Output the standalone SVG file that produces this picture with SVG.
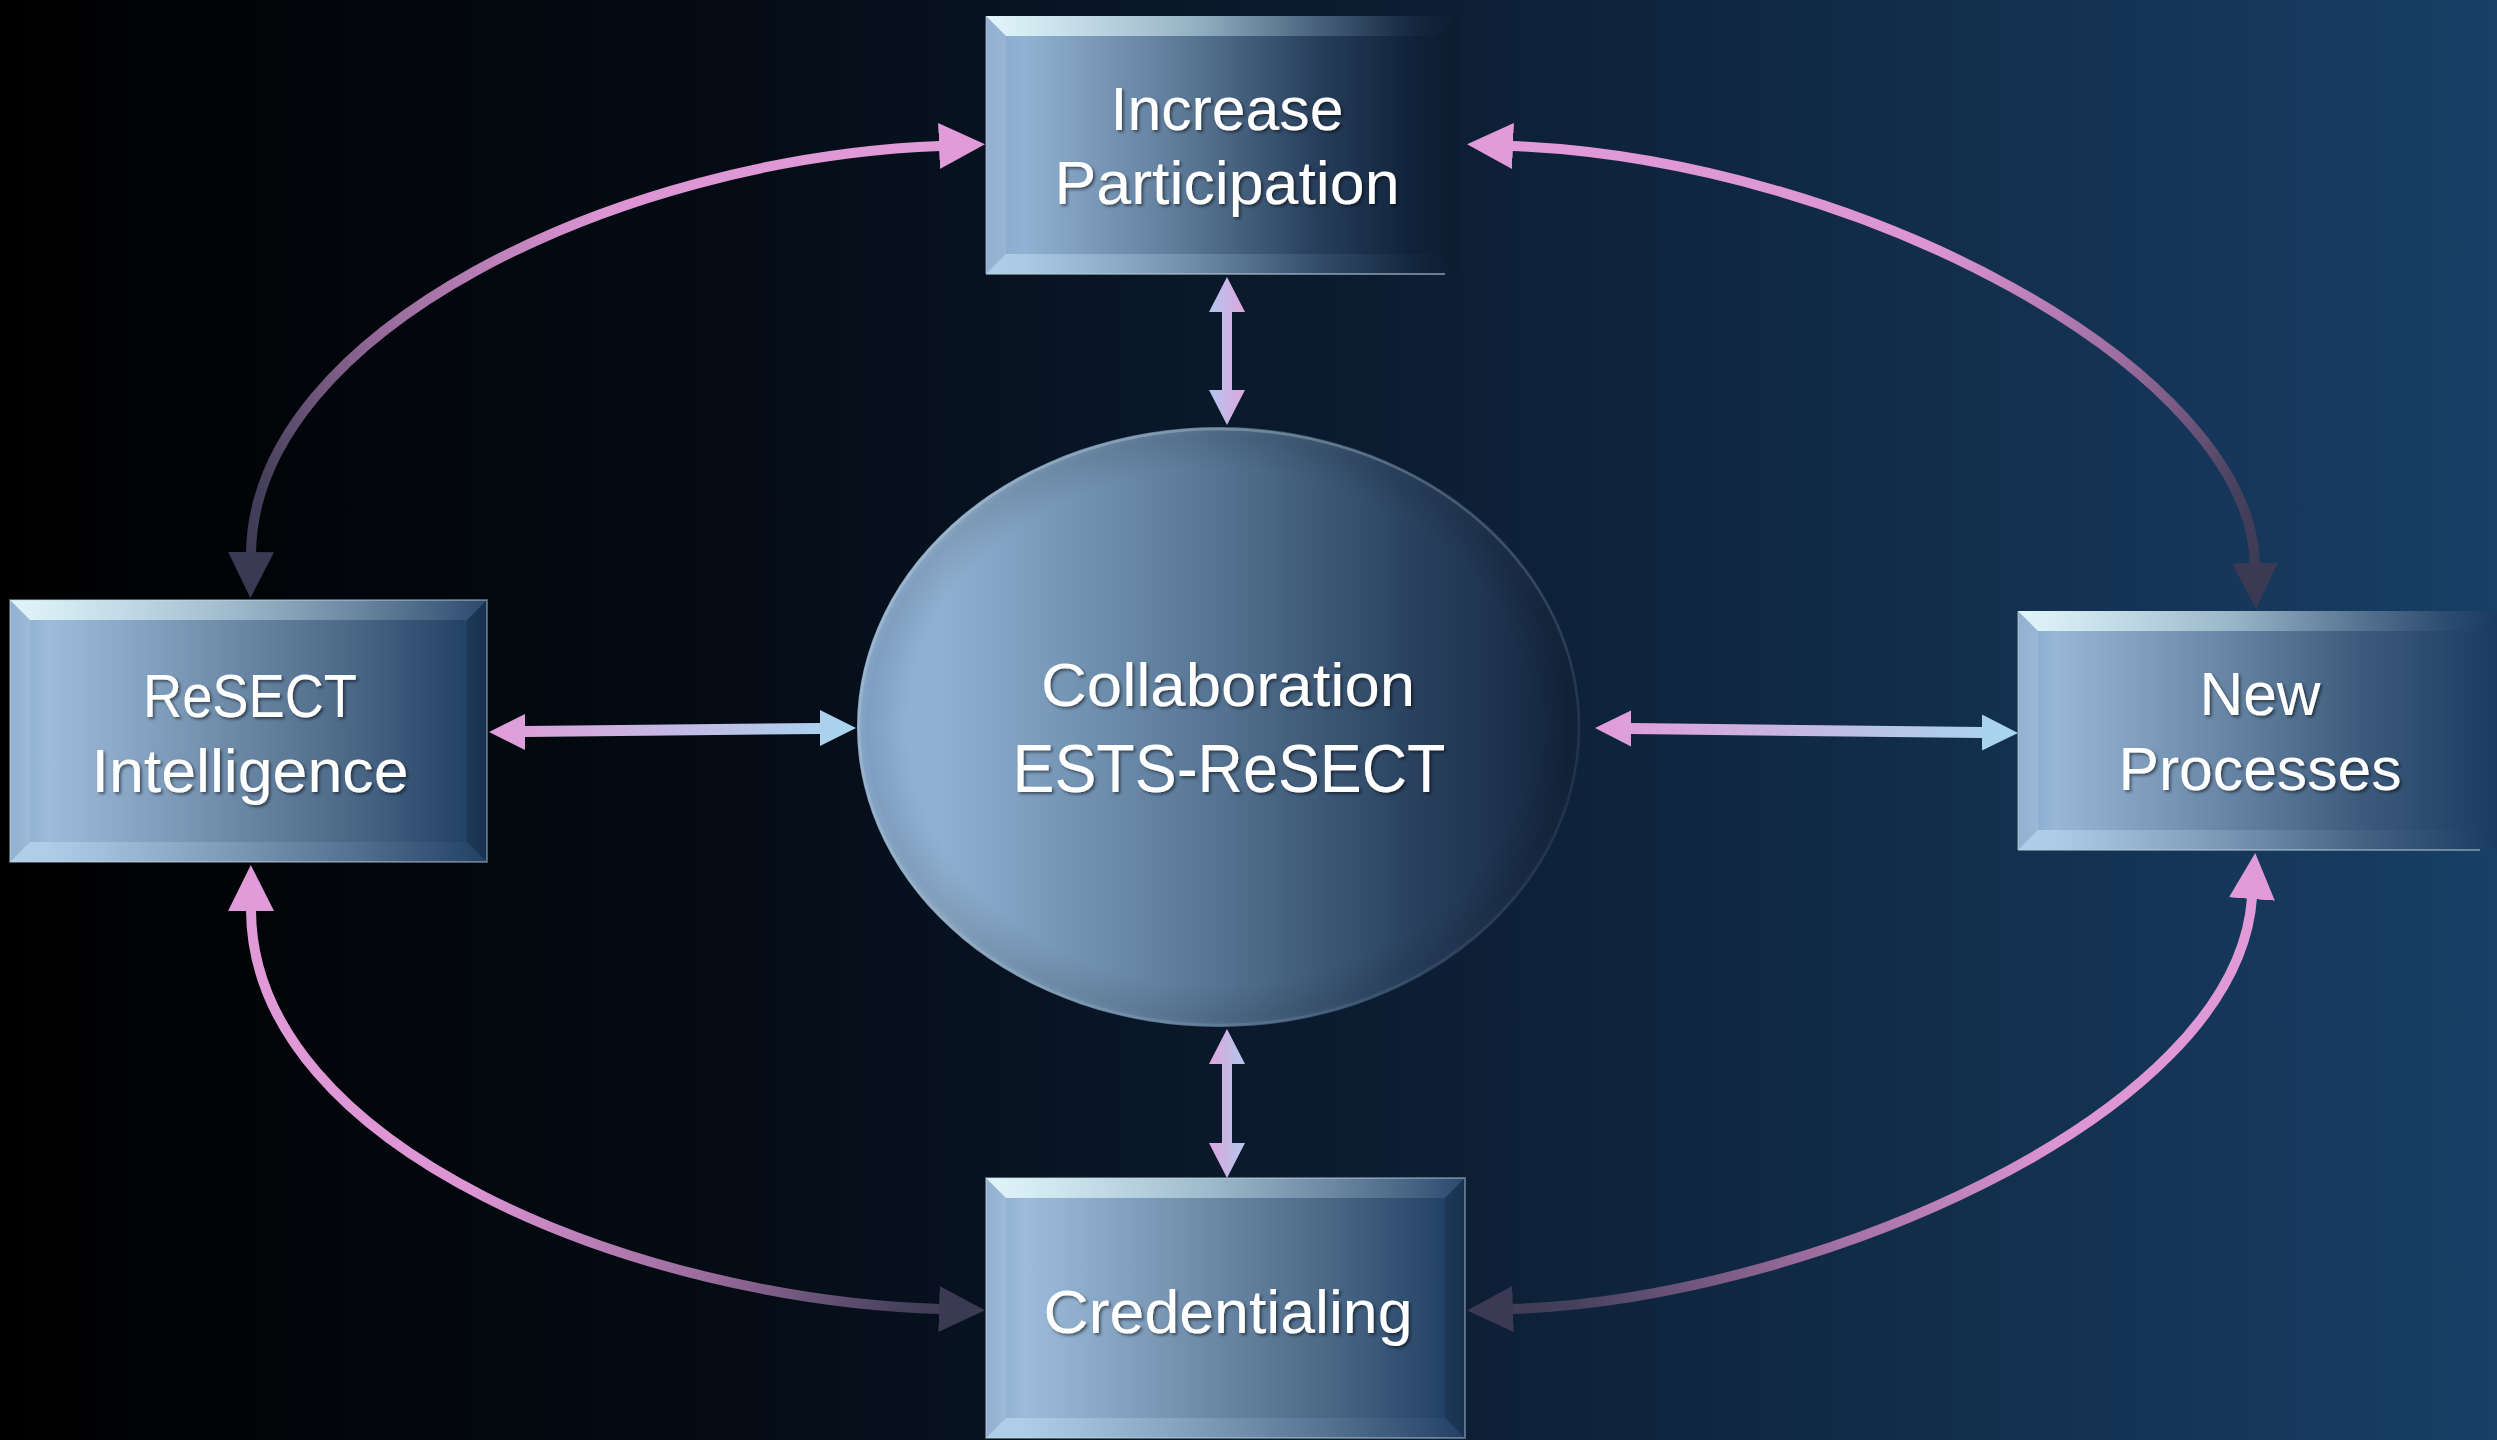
<svg xmlns="http://www.w3.org/2000/svg" width="2497" height="1440" viewBox="0 0 2497 1440">
<defs>
<style>
.lbl { font-family: "Liberation Sans", Arial, sans-serif; font-size: 62px; fill: #ffffff; text-anchor: middle; }
.arc { fill: none; stroke-width: 10; stroke-linecap: butt; marker-start: url(#hPink); marker-end: url(#hDark); }
.bevL { fill: #ffffff; fill-opacity: 0.10; }
.bevR { fill: #000000; fill-opacity: 0.14; }
.edge { fill: none; stroke: #c8dbe6; stroke-opacity: 0.4; stroke-width: 2; }
</style>
<linearGradient id="bg" x1="0" y1="0" x2="1" y2="0">
<stop offset="0" stop-color="#000000"/>
<stop offset="0.3" stop-color="#050c16"/>
<stop offset="0.6" stop-color="#0d2037"/>
<stop offset="1" stop-color="#183f66"/>
</linearGradient>
<linearGradient id="boxFill" x1="0" y1="0" x2="1" y2="0">
<stop offset="0" stop-color="#86a8cb"/>
<stop offset="0.08" stop-color="#9dbcdb"/>
<stop offset="0.4" stop-color="#7593b1"/>
<stop offset="0.72" stop-color="#4a6786"/>
<stop offset="1" stop-color="#1b3b5f"/>
</linearGradient>
<linearGradient id="boxFillTop" x1="0" y1="0" x2="1" y2="0">
<stop offset="0" stop-color="#86a8cb"/>
<stop offset="0.08" stop-color="#92b2d3"/>
<stop offset="0.4" stop-color="#5f7d9b"/>
<stop offset="0.7" stop-color="#273f5c"/>
<stop offset="0.9" stop-color="#10233a"/>
<stop offset="1" stop-color="#0c1c30"/>
</linearGradient>
<linearGradient id="boxFillRight" x1="0" y1="0" x2="1" y2="0">
<stop offset="0" stop-color="#86a8cb"/>
<stop offset="0.08" stop-color="#98b7d7"/>
<stop offset="0.4" stop-color="#6c8aa9"/>
<stop offset="0.72" stop-color="#3c5a7b"/>
<stop offset="1" stop-color="#1a3c62"/>
</linearGradient>
<linearGradient id="bevTop" x1="0" y1="0" x2="1" y2="0">
<stop offset="0" stop-color="#e6fafc" stop-opacity="0.95"/>
<stop offset="0.45" stop-color="#bcd6e0" stop-opacity="0.65"/>
<stop offset="1" stop-color="#7f9ab5" stop-opacity="0.15"/>
</linearGradient>
<linearGradient id="bevTopFade" x1="0" y1="0" x2="1" y2="0">
<stop offset="0" stop-color="#e6fafc" stop-opacity="0.95"/>
<stop offset="0.45" stop-color="#bcd6e0" stop-opacity="0.6"/>
<stop offset="0.9" stop-color="#7f9ab5" stop-opacity="0.05"/>
<stop offset="1" stop-color="#7f9ab5" stop-opacity="0"/>
</linearGradient>
<linearGradient id="bevBot" x1="0" y1="0" x2="1" y2="0">
<stop offset="0" stop-color="#bcdcf4" stop-opacity="0.75"/>
<stop offset="0.5" stop-color="#90b0cc" stop-opacity="0.35"/>
<stop offset="1" stop-color="#3f5f80" stop-opacity="0.15"/>
</linearGradient>
<linearGradient id="bevBotFade" x1="0" y1="0" x2="1" y2="0">
<stop offset="0" stop-color="#bcdcf4" stop-opacity="0.75"/>
<stop offset="0.5" stop-color="#90b0cc" stop-opacity="0.3"/>
<stop offset="1" stop-color="#3f5f80" stop-opacity="0"/>
</linearGradient>
<linearGradient id="ellFill" x1="0" y1="0" x2="1" y2="0">
<stop offset="0" stop-color="#8db0d6"/>
<stop offset="0.12" stop-color="#8fb0d1"/>
<stop offset="0.45" stop-color="#5d7c9b"/>
<stop offset="0.75" stop-color="#2b4462"/>
<stop offset="1" stop-color="#11233b"/>
</linearGradient>
<radialGradient id="ellShade" cx="0.5" cy="0.5" r="0.5">
<stop offset="0.86" stop-color="#000000" stop-opacity="0"/>
<stop offset="0.97" stop-color="#000000" stop-opacity="0.1"/>
<stop offset="1" stop-color="#000000" stop-opacity="0.05"/>
</radialGradient>
<linearGradient id="ellRim" x1="0" y1="0" x2="1" y2="0.6">
<stop offset="0" stop-color="#b8ccd8" stop-opacity="0.55"/>
<stop offset="0.5" stop-color="#a8b8b8" stop-opacity="0.4"/>
<stop offset="1" stop-color="#8fa9c4" stop-opacity="0.12"/>
</linearGradient>
<linearGradient id="gTL" gradientUnits="userSpaceOnUse" x1="986" y1="146" x2="251" y2="599">
<stop offset="0" stop-color="#e29bd9"/><stop offset="0.42" stop-color="#dc94d3"/><stop offset="0.7" stop-color="#9a6c9c"/><stop offset="0.92" stop-color="#45405c"/><stop offset="1" stop-color="#3b3953"/>
</linearGradient>
<linearGradient id="gTR" gradientUnits="userSpaceOnUse" x1="1466" y1="146" x2="2256" y2="610">
<stop offset="0" stop-color="#e29bd9"/><stop offset="0.5" stop-color="#dc94d3"/><stop offset="0.74" stop-color="#9a6c9c"/><stop offset="0.92" stop-color="#45405c"/><stop offset="1" stop-color="#3b3953"/>
</linearGradient>
<linearGradient id="gBL" gradientUnits="userSpaceOnUse" x1="251" y1="864" x2="986" y2="1309">
<stop offset="0" stop-color="#e29bd9"/><stop offset="0.42" stop-color="#dc94d3"/><stop offset="0.7" stop-color="#9a6c9c"/><stop offset="0.92" stop-color="#45405c"/><stop offset="1" stop-color="#3b3953"/>
</linearGradient>
<linearGradient id="gBR" gradientUnits="userSpaceOnUse" x1="2254" y1="852" x2="1466" y2="1309">
<stop offset="0" stop-color="#e29bd9"/><stop offset="0.35" stop-color="#dc94d3"/><stop offset="0.65" stop-color="#9a6c9c"/><stop offset="0.9" stop-color="#45405c"/><stop offset="1" stop-color="#3b3953"/>
</linearGradient>
<linearGradient id="gH" x1="0" y1="0" x2="1" y2="0">
<stop offset="0" stop-color="#e29bd9"/><stop offset="1" stop-color="#a6d6ef"/>
</linearGradient>
<linearGradient id="gVtop" x1="0" y1="0" x2="1" y2="0">
<stop offset="0" stop-color="#b2c6ee"/><stop offset="1" stop-color="#dea6de"/>
</linearGradient>
<linearGradient id="gVbot" x1="0" y1="0" x2="1" y2="0">
<stop offset="0" stop-color="#dea6de"/><stop offset="1" stop-color="#b2c8ec"/>
</linearGradient>
<marker id="hPink" markerUnits="userSpaceOnUse" viewBox="0 0 46 46" markerWidth="46" markerHeight="46" refX="1" refY="23" orient="auto-start-reverse">
<path d="M0,0 L46,23 L0,46 z" fill="#e29bd9"/>
</marker>
<marker id="hDark" markerUnits="userSpaceOnUse" viewBox="0 0 46 46" markerWidth="46" markerHeight="46" refX="1" refY="23" orient="auto-start-reverse">
<path d="M0,0 L46,23 L0,46 z" fill="#3b3953"/>
</marker>
<filter id="ts" x="-10%" y="-30%" width="120%" height="160%">
<feDropShadow dx="2" dy="2" stdDeviation="1.5" flood-color="#000000" flood-opacity="0.5"/>
</filter>
</defs>

<rect x="0" y="0" width="2497" height="1440" fill="url(#bg)"/>

<g id="node-increase-participation">
<rect x="986" y="16" width="471" height="258" fill="url(#boxFillTop)"/>
<polygon points="986,16 1457,16 1437,36 1006,36" fill="url(#bevTopFade)"/>
<polygon class="bevL" points="986,16 1006,36 1006,254 986,274"/>
<polygon points="986,274 1006,254 1437,254 1457,274" fill="url(#bevBotFade)"/>
<line x1="986" y1="274" x2="1445" y2="274" stroke="#b8ccd8" stroke-opacity="0.55" stroke-width="2"/>
<line x1="986" y1="16" x2="986" y2="274" stroke="#b8ccd8" stroke-opacity="0.35" stroke-width="2"/>
<g filter="url(#ts)">
<text class="lbl" x="1227" y="130" textLength="233" lengthAdjust="spacingAndGlyphs">Increase</text>
<text class="lbl" x="1227" y="204" textLength="345" lengthAdjust="spacingAndGlyphs">Participation</text>
</g>
</g>

<g id="node-resect-intelligence">
<rect x="10" y="600" width="477" height="262" fill="url(#boxFill)"/>
<polygon points="10,600 487,600 467,620 30,620" fill="url(#bevTop)"/>
<polygon class="bevL" points="10,600 30,620 30,842 10,862"/>
<polygon points="10,862 30,842 467,842 487,862" fill="url(#bevBot)"/>
<polygon class="bevR" points="487,600 487,862 467,842 467,620"/>
<rect class="edge" x="10" y="600" width="477" height="262"/>
<g filter="url(#ts)">
<text class="lbl" x="250" y="717" textLength="214" lengthAdjust="spacingAndGlyphs">ReSECT</text>
<text class="lbl" x="250" y="792" textLength="317" lengthAdjust="spacingAndGlyphs">Intelligence</text>
</g>
</g>

<g id="node-new-processes">
<rect x="2018" y="611" width="479" height="239" fill="url(#boxFillRight)"/>
<polygon points="2018,611 2497,611 2477,631 2038,631" fill="url(#bevTopFade)"/>
<polygon class="bevL" points="2018,611 2038,631 2038,830 2018,850"/>
<polygon points="2018,850 2038,830 2477,830 2497,850" fill="url(#bevBotFade)"/>
<line x1="2018" y1="850" x2="2480" y2="850" stroke="#b8ccd8" stroke-opacity="0.5" stroke-width="2"/>
<line x1="2018" y1="611" x2="2018" y2="850" stroke="#b8ccd8" stroke-opacity="0.4" stroke-width="2"/>
<g filter="url(#ts)">
<text class="lbl" x="2260" y="715" textLength="121" lengthAdjust="spacingAndGlyphs">New</text>
<text class="lbl" x="2260" y="790" textLength="283" lengthAdjust="spacingAndGlyphs">Processes</text>
</g>
</g>

<g id="node-credentialing">
<rect x="986" y="1178" width="479" height="260" fill="url(#boxFill)"/>
<polygon points="986,1178 1465,1178 1445,1198 1006,1198" fill="url(#bevTop)"/>
<polygon class="bevL" points="986,1178 1006,1198 1006,1418 986,1438"/>
<polygon points="986,1438 1006,1418 1445,1418 1465,1438" fill="url(#bevBot)"/>
<polygon class="bevR" points="1465,1178 1465,1438 1445,1418 1445,1198"/>
<rect class="edge" x="986" y="1178" width="479" height="260"/>
<g filter="url(#ts)">
<text class="lbl" x="1228" y="1333" textLength="369" lengthAdjust="spacingAndGlyphs">Credentialing</text>
</g>
</g>

<g id="node-collaboration">
<ellipse cx="1219" cy="727" rx="362" ry="300" fill="url(#ellFill)"/>
<ellipse cx="1219" cy="727" rx="362" ry="300" fill="url(#ellShade)"/>
<ellipse cx="1219" cy="727" rx="360" ry="298" fill="none" stroke="url(#ellRim)" stroke-width="2.5"/>
<g filter="url(#ts)">
<text class="lbl" x="1228" y="706" textLength="374" lengthAdjust="spacingAndGlyphs">Collaboration</text>
<text class="lbl" x="1229" y="792" style="font-size:68px" textLength="433" lengthAdjust="spacingAndGlyphs">ESTS-ReSECT</text>
</g>
</g>

<g id="connectors">
<path class="arc" stroke="url(#gTL)" d="M940,146 C620,158 254,330 251,553"/>
<path class="arc" stroke="url(#gTR)" d="M1512,146 C1860,160 2250,370 2255,564"/>
<path class="arc" stroke="url(#gBL)" d="M251,910 C252,1150 640,1300 940,1309"/>
<path class="arc" stroke="url(#gBR)" d="M2252,898 C2236,1120 1800,1300 1512,1309"/>
<polygon fill="url(#gVtop)" points="1227,277 1245,312 1232,312 1232,390 1245,390 1227,425 1209,390 1222,390 1222,312 1209,312"/>
<polygon fill="url(#gVbot)" points="1227,1029 1245,1064 1232,1064 1232,1143 1245,1143 1227,1178 1209,1143 1222,1143 1222,1064 1209,1064"/>
<polygon fill="url(#gH)" points="489,732 525,714 525,726.1 820,722.9 820,710 856,728 820,746 820,733.9 525,737.1 525,750"/>
<polygon fill="url(#gH)" points="1595,728 1631,710.4 1631,722.9 1982,727.1 1982,714.6 2018,733 1982,750.6 1982,738.1 1631,733.9 1631,746.4"/>
</g>
</svg>
